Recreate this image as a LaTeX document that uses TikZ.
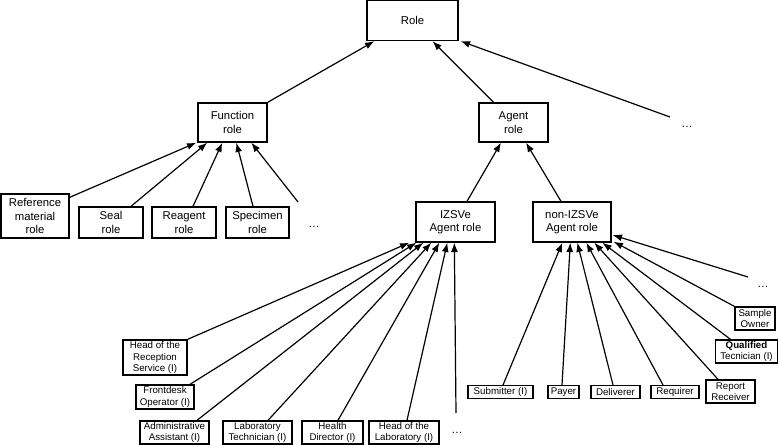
\documentclass[tikz,border=0pt]{standalone}
\usepackage{fontspec}
\setmainfont{Liberation Sans}
\usepackage{tikz}
\usetikzlibrary{arrows.meta,calc}
\tikzset{
  % upper level role box
  rbox/.style={rectangle,draw,line width=1pt,inner sep=0pt,
    align=center,font=\fontsize{8.5}{10}\selectfont},
  % bottom level role box
  lbox/.style={rectangle,draw,line width=1pt,inner sep=0pt,
    align=center,font=\fontsize{7.3}{8.6}\selectfont},
  % continuation dots
  more/.style={inner sep=0pt,font=\fontsize{8.5}{10}\selectfont},
  % Arrows
  arr/.style={-{Latex[length=7pt,width=5.2pt]},line width=0.9pt},
}

\begin{document}
\begin{tikzpicture}[x=0.75pt,y=-0.75pt]
  \useasboundingbox (0,0) rectangle (779,445);

  %% --- TOP ---
  \node[rbox,minimum width=68.25pt,minimum height=30pt] (role) at (412.5,20.5) {Role};
  \node[rbox,minimum width=51.75pt,minimum height=29.25pt] (func) at (232.5,122.5) {Function\\role};
  \node[rbox,minimum width=51.75pt,minimum height=29.25pt] (agent) at (513.5,122.5) {Agent\\role};
  \node[more] (moreR) at (687,127) {\ldots};
  \coordinate (moreRt) at (670,117);

  \draw[arr] (func.north east) -- ($(role.south west)+(8,0)$);
  \draw[arr] ($(agent.north)+(-20,0)$) -- ($(role.south)+(20,0)$);
  \draw[arr] (moreRt) -- ($(role.south east)+(2,0)$);

  %% --- FUNCTION ROLES ---
  \node[rbox,minimum width=51pt,minimum height=33pt] (refmat) at (35,216) {Reference\\material\\role};
  \node[rbox,minimum width=48pt,minimum height=23.25pt] (seal) at (111,222.5) {Seal\\role};
  \node[rbox,minimum width=48pt,minimum height=23.25pt] (reagent) at (184,222.5) {Reagent\\role};
  \node[rbox,minimum width=47.25pt,minimum height=23.25pt] (specimen) at (257.5,222.5) {Specimen\\role};
  \node[more] (moreF) at (314,227) {\ldots};
  \coordinate (moreFt) at (298,202);

  \draw[arr] ($(refmat.north east)+(0,4)$) -- ($(func.south west)+(-1,0)$);
  \draw[arr] ($(seal.north)+(20,0)$) -- ($(func.south west)+(10,0)$);
  \draw[arr] ($(reagent.north)+(9,0)$) -- ($(func.south west)+(25,0)$);
  \draw[arr] ($(specimen.north)+(-4.5,0)$) -- ($(func.south west)+(39,0)$);
  \draw[arr] (moreFt) -- ($(func.south west)+(54,0)$);

  %% --- AGENT ROLES ---
  \node[rbox,minimum width=59.25pt,minimum height=30pt] (izsve) at (455.5,222) {IZSVe\\Agent role};
  \node[rbox,minimum width=58.5pt,minimum height=30pt] (nonizsve) at (572,222) {non-IZSVe\\Agent role};

  \draw[arr] ($(izsve.north)+(11.5,0)$) -- ($(agent.south)+(-12.5,0)$);
  \draw[arr] ($(nonizsve.north)+(-11,0)$) -- ($(agent.south)+(12.5,0)$);

  %% --- IZSVe AGENTS ---
  \node[lbox,minimum width=48pt,minimum height=26.25pt] (headrec) at (155,357.5) {Head of the\\Reception\\Service (I)};
  \node[lbox,minimum width=43.5pt,minimum height=18pt] (front) at (165,397) {Frontdesk\\Operator (I)};
  \node[lbox,minimum width=51.75pt,minimum height=17.25pt] (admin) at (174.5,432.5) {Administrative\\Assistant (I)};
  \node[lbox,minimum width=51.75pt,minimum height=17.25pt] (labtech) at (257.5,432.5) {Laboratory\\Technician (I)};
  \node[lbox,minimum width=45.75pt,minimum height=17.25pt] (health) at (332.5,432.5) {Health\\Director (I)};
  \node[lbox,minimum width=52.5pt,minimum height=17.25pt] (headlab) at (404,432.5) {Head of the\\Laboratory (I)};
  \node[more] (moreI) at (457,433) {\ldots};
  \coordinate (moreIt) at (456,413);

  \draw[arr] (headrec.north east) -- ($(izsve.south west)+(-6,0)$);
  \draw[arr] ($(front.north)+(25,0)$) -- ($(izsve.south west)+(1,0)$);
  \draw[arr] ($(admin.north)+(22.5,0)$) -- ($(izsve.south west)+(8,0)$);
  \draw[arr] ($(labtech.north)+(10.5,0)$) -- ($(izsve.south west)+(16,0)$);
  \draw[arr] ($(health.north)+(5.5,0)$) -- ($(izsve.south west)+(24,0)$);
  \draw[arr] ($(headlab.north)+(3,0)$) -- ($(izsve.south west)+(32,0)$);
  \draw[arr] (moreIt) -- ($(izsve.south west)+(39,0)$);

  %% --- non-IZSVe AGENTS ---
  \node[lbox,minimum width=48.75pt,minimum height=9.5pt] (submit) at (500.5,392) {Submitter (I)};
  \node[lbox,minimum width=23.25pt,minimum height=9.5pt] (payer) at (563.5,392) {Payer};
  \node[lbox,minimum width=36.75pt,minimum height=9.5pt] (deliver) at (615.5,392) {Deliverer};
  \node[lbox,minimum width=36pt,minimum height=9.5pt] (require) at (675,392) {Requirer};
  \node[lbox,minimum width=36.75pt,minimum height=17.25pt] (report) at (730.5,391.5) {Report\\Receiver};
  \node[lbox,minimum width=46.5pt,minimum height=17.25pt] (qualif) at (746.5,351.5) {\textbf{Qualified}\\Tecnician (I)};
  \node[lbox,minimum width=30pt,minimum height=17.25pt] (owner) at (755,318.5) {Sample\\Owner};
  \node[more] (moreN) at (763,287) {\ldots};
  \coordinate (moreNt) at (748,277);

  \draw[arr] ($(submit.north)+(2.5,0)$) -- ($(nonizsve.south west)+(30,0)$);
  \draw[arr] ($(payer.north)+(-1.5,0)$) -- ($(nonizsve.south west)+(38,0)$);
  \draw[arr] ($(deliver.north)+(-2.5,0)$) -- ($(nonizsve.south west)+(45,0)$);
  \draw[arr] ($(require.north)+(-12,0)$) -- ($(nonizsve.south west)+(54,0)$);
  \draw[arr] ($(report.north)+(-12.5,0)$) -- ($(nonizsve.south west)+(62,0)$);
  \draw[arr] ($(qualif.north)+(-16,0)$) -- ($(nonizsve.south west)+(70,0)$);
  \draw[arr] (owner.north west) -- ($(nonizsve.south east)+(2,-1)$);
  \draw[arr] (moreNt) -- ($(nonizsve.east)+(1,13)$);
\end{tikzpicture}
\end{document}
